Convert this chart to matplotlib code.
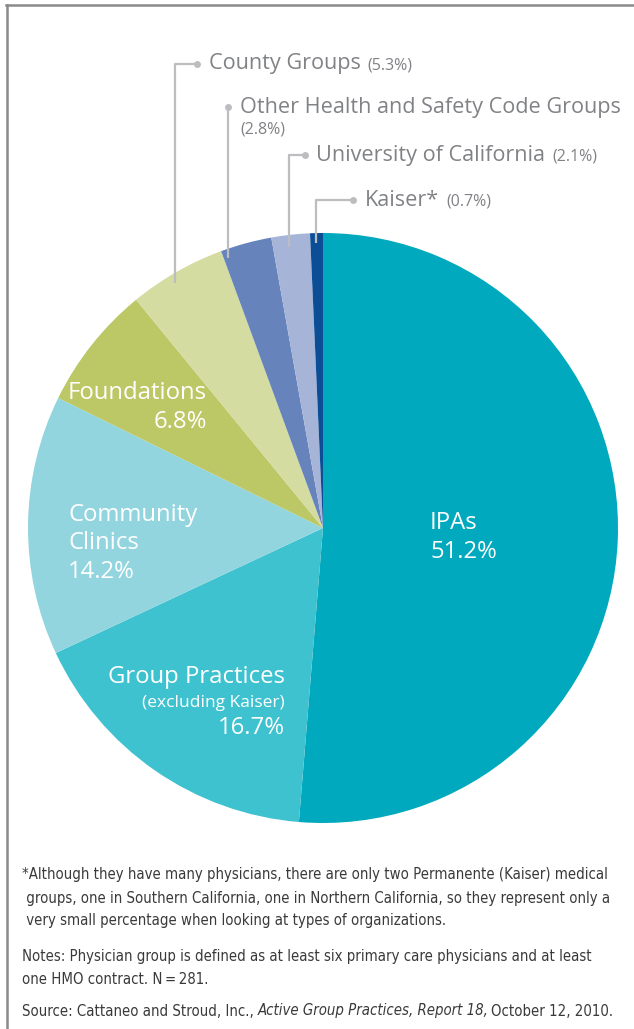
import matplotlib.pyplot as plt
from matplotlib.lines import Line2D
from matplotlib import font_manager as fm

W, H = 634, 1029

categories = ['IPAs', 'Group Practices', 'Community Clinics', 'Foundations',
              'County Groups', 'Other Health and Safety Code Groups',
              'University of California', 'Kaiser*']
shares = [51.2, 16.7, 14.2, 6.8, 5.3, 2.8, 2.1, 0.7]
colors = ['#00a9bd', '#3ec2cf', '#93d5df', '#bbc865',
          '#d4dca1', '#6683bb', '#a6b4d8', '#0b4e96']

footnotes = [
    '*Although they have many physicians, there are only two Permanente (Kaiser) medical',
    ' groups, one in Southern California, one in Northern California, so they represent only a',
    ' very small percentage when looking at types of organizations.',
]
notes = [
    'Notes: Physician group is defined as at least six primary care physicians and at least',
    'one HMO contract. N\u2009=\u2009281.',
]

GRAY_TXT = '#808285'
LEADER = '#bcbdc0'
MAIN = ['Open Sans', 'DejaVu Sans']

# a narrow face for the footnotes, if one is installed
NARROW = dict(family=['Liberation Sans', 'DejaVu Sans'])
for fam, stretch in [('Liberation Sans Narrow', 'normal'),
                     ('DejaVu Sans', 'condensed')]:
    try:
        path = fm.findfont(fm.FontProperties(family=fam, stretch=stretch),
                           fallback_to_default=False)
    except ValueError:
        continue
    if 'Narrow' in path or 'Condensed' in path:
        NARROW = dict(family=[fam], stretch=stretch)
        break


def Y(py):
    return H - py


fig = plt.figure(figsize=(W / 100, H / 100), dpi=100)
ax = fig.add_axes([0, 0, 1, 1])

cx, cy, r = 323, 528, 295
ax.pie(shares, colors=colors, startangle=90, counterclock=False,
       center=(cx, Y(cy)), radius=r,
       wedgeprops=dict(linewidth=0, antialiased=True))
ax.set_xlim(0, W)
ax.set_ylim(0, H)
ax.set_aspect('equal')
ax.axis('off')

# frame on top and left
ax.add_line(Line2D([6, W], [Y(5), Y(5)], color='#8a8a8a', lw=1.8))
ax.add_line(Line2D([7, 7], [Y(5), 0], color='#8a8a8a', lw=1.8))

# labels inside the slices
BIG, SMALL = 17.2, 12.5
white = dict(color='white', family=MAIN)
ax.text(430, Y(523), 'IPAs', fontsize=BIG, ha='left', va='center', **white)
ax.text(430, Y(552), f'{shares[0]}%', fontsize=BIG, ha='left', va='center', **white)

ax.text(285, Y(677), 'Group Practices', fontsize=BIG, ha='right', va='center', **white)
ax.text(285, Y(703), '(excluding Kaiser)', fontsize=SMALL, ha='right', va='center', **white)
ax.text(285, Y(728), f'{shares[1]}%', fontsize=BIG, ha='right', va='center', **white)

ax.text(68, Y(515), 'Community', fontsize=BIG, ha='left', va='center', **white)
ax.text(68, Y(543), 'Clinics', fontsize=BIG, ha='left', va='center', **white)
ax.text(68, Y(572), f'{shares[2]}%', fontsize=BIG, ha='left', va='center', **white)

ax.text(207, Y(393), 'Foundations', fontsize=BIG, ha='right', va='center', **white)
ax.text(207, Y(422), f'{shares[3]}%', fontsize=BIG, ha='right', va='center', **white)

# callouts for the small slices: (dot x, dot y, corner x, end y, text x)
callouts = [
    (197, 64, 175, 283, 209),
    (228, 107, 228, 258, 240),
    (305, 155, 289, 247, 316),
    (353, 200, 316, 243, 365),
]
for i, (dx, dy, kx, ey, tx) in enumerate(callouts):
    k = i + 4
    ax.plot([dx, kx, kx], [Y(dy), Y(dy), Y(ey)], color=LEADER, lw=1.6,
            solid_capstyle='butt')
    ax.plot([dx], [Y(dy)], 'o', ms=5, color=LEADER, mec='none')
    name = ax.text(tx, Y(dy), categories[k], fontsize=15.6, color=GRAY_TXT,
                   family=MAIN, ha='left', va='center')
    pct = f'({shares[k]}%)'
    if k == 5:
        ax.text(tx, Y(130), pct, fontsize=11.5, color=GRAY_TXT, family=MAIN,
                ha='left', va='center')
    else:
        ax.annotate(pct, xycoords=name, xy=(1, 0), xytext=(5, 1),
                    textcoords='offset points', ha='left', va='bottom',
                    fontsize=11.5, color=GRAY_TXT, family=MAIN)

# footnotes, sized so the first line spans the text block
TXT = '#3a3a3a'
probe = ax.text(22, Y(875), footnotes[0], fontsize=12, **NARROW)
fig.canvas.draw()
w = probe.get_window_extent().width
probe.remove()
FS = min(12.5, 12 * 586 / w)

for i, line in enumerate(footnotes):
    ax.text(22, Y(875 + 23 * i), line, fontsize=FS, color=TXT,
            ha='left', va='center', **NARROW)
for i, line in enumerate(notes):
    ax.text(22, Y(956 + 23 * i), line, fontsize=FS, color=TXT,
            ha='left', va='center', **NARROW)
src = ax.text(22, Y(1011), 'Source: Cattaneo and Stroud, Inc., ', fontsize=FS,
              color=TXT, ha='left', va='center', **NARROW)
src = ax.annotate('Active Group Practices, Report 18,', xycoords=src, xy=(1, 0.5),
                  ha='left', va='center', fontsize=FS, color=TXT,
                  style='italic', **NARROW)
ax.annotate('October 12, 2010.', xycoords=src, xy=(1, 0.5), xytext=(1.2, 0),
            textcoords='offset points', ha='left', va='center', fontsize=FS,
            color=TXT, **NARROW)

fig.savefig('out.png', dpi=100, facecolor='white')
